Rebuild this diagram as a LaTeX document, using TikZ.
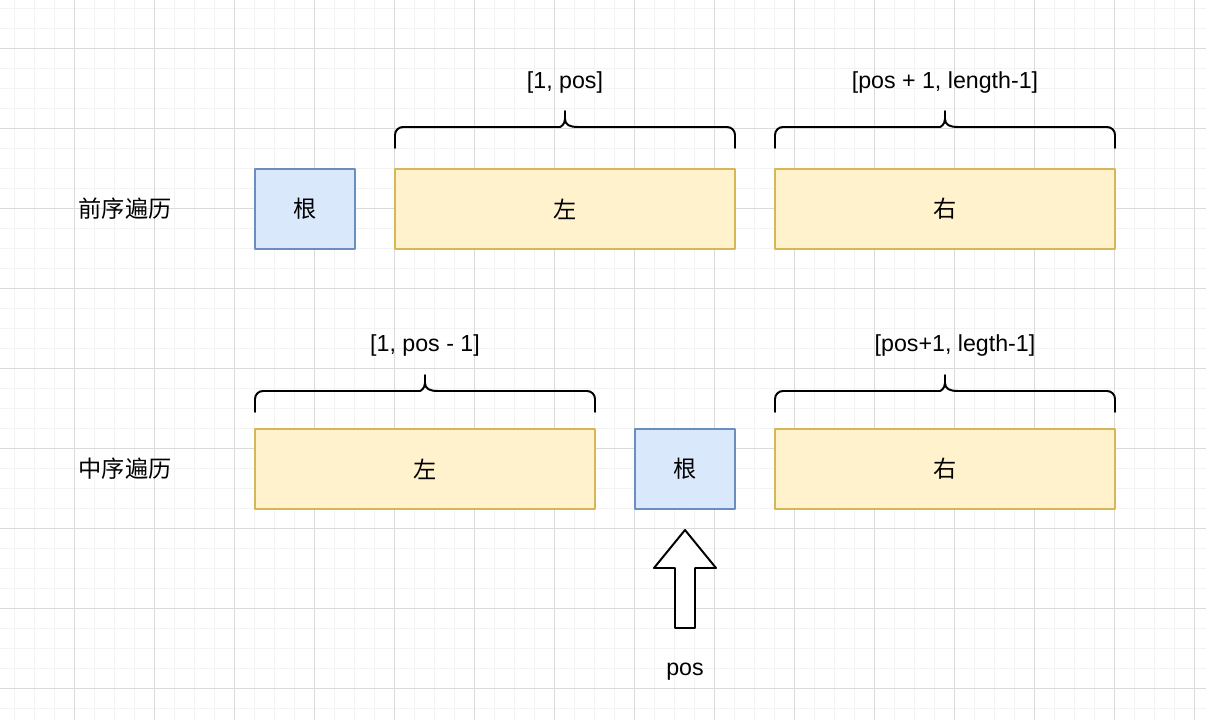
\documentclass[tikz,border=0pt]{standalone}
\usepackage{fontspec}
\setmainfont{Liberation Sans}
\newfontfamily\cjk{Noto Sans CJK SC}
\definecolor{gridminor}{HTML}{F3F3F3}
\definecolor{gridmajor}{HTML}{DADADA}
\definecolor{rootfill}{HTML}{DAE8FC}
\definecolor{rootline}{HTML}{6C8EBF}
\definecolor{partfill}{HTML}{FFF2CC}
\definecolor{partline}{HTML}{D6B656}

\begin{document}
\begin{tikzpicture}[x=0.025cm,y=-0.025cm,line join=round,
  font=\fontsize{16.5}{20}\selectfont,
  rootbox/.style={draw=rootline,fill=rootfill,line width=1.4pt,inner sep=0pt,
    minimum width=2.5cm,minimum height=2cm,font=\fontsize{16.5}{20}\selectfont\cjk},
  partbox/.style={draw=partline,fill=partfill,line width=1.4pt,inner sep=0pt,
    minimum width=8.5cm,minimum height=2cm,font=\fontsize{16.5}{20}\selectfont\cjk},
  bracket/.style={line width=1.4pt,line cap=round}]
  % background grid
  \useasboundingbox (0,0) rectangle (1206,720);
  \fill[white] (0,0) rectangle (1206,720);
  \foreach \x in {14,34,...,1194} \draw[gridminor,line width=0.7pt] (\x,0) -- (\x,720);
  \foreach \y in {8,28,...,708} \draw[gridminor,line width=0.7pt] (0,\y) -- (1206,\y);
  \foreach \x in {74,154,...,1194} \draw[gridmajor,line width=0.6pt] (\x,0) -- (\x,720);
  \foreach \y in {48,128,...,688} \draw[gridmajor,line width=0.6pt] (0,\y) -- (1206,\y);

  % preorder row
  \node[font=\fontsize{16.5}{20}\selectfont\cjk] (prelabel) at (125,209) {前序遍历};
  \node[rootbox] (preroot) at (305,209) {根};
  \node[partbox] (preleft) at (565,209) {左};
  \node[partbox] (preright) at (945,209) {右};

  % inorder row
  \node[font=\fontsize{16.5}{20}\selectfont\cjk] (inlabel) at (125,469) {中序遍历};
  \node[partbox] (inleft) at (425,469) {左};
  \node[rootbox] (inroot) at (685,469) {根};
  \node[partbox] (inright) at (945,469) {右};

  % braces
  \foreach \xa/\xb/\yb in {395/735/148, 775/1115/148, 255/595/412, 775/1115/412} {
    \pgfmathsetmacro\xm{(\xa+\xb)/2}
    \pgfmathsetmacro\yl{\yb-21}
    \pgfmathsetmacro\yt{\yb-37}
    \draw[bracket] (\xa,\yb) [rounded corners=0.2cm] |- (\xm-13,\yl) [sharp corners]
      .. controls (\xm-5,\yl) and (\xm,\yl-2) .. (\xm,\yl-8) -- (\xm,\yt)
      (\xm,\yl-8) .. controls (\xm,\yl-2) and (\xm+5,\yl) .. (\xm+13,\yl)
      [rounded corners=0.2cm] -| (\xb,\yb);
  }
  \node (prelrange) at (565,83) {[1, pos]};
  \node (prerrange) at (945,83) {[pos + 1, length-1]};
  \node (inlrange) at (425,346) {[1, pos - 1]};
  \node (inrrange) at (955,346) {[pos+1, legth-1]};

  % pos marker
  \coordinate (tip) at (685,530);
  \draw[line width=1.4pt,fill=white] (tip) -- (716,568) -- (695,568) -- (695,628)
    -- (675,628) -- (675,568) -- (654,568) -- cycle;
  \node (poslabel) at (685,672) {pos};
\end{tikzpicture}
\end{document}
